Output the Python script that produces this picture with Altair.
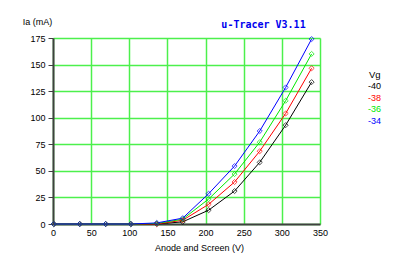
import altair as alt
import pandas as pd

anode_v = [1, 35, 69, 102, 136, 170, 204, 238, 271, 305, 339]
vg_labels = ["-40", "-38", "-36", "-34"]
ia_m40 = [0, 0, 0, 0, 0, 2, 13, 31, 58, 93, 133.5]
ia_m38 = [0, 0, 0, 0, 0, 3.5, 18.5, 39.5, 68.5, 104, 146.5]
ia_m36 = [0, 0, 0, 0, 0.5, 4.5, 23.5, 47, 77, 116, 160]
ia_m34 = [0, 0, 0, 0, 1, 5.5, 28.5, 54.5, 87.5, 128.5, 174]
series_colors = ["#000000", "#ff0000", "#00e800", "#0000ff"]

rows = []
for lab, vals in zip(vg_labels, [ia_m40, ia_m38, ia_m36, ia_m34]):
    for v, i in zip(anode_v, vals):
        rows.append({"V": v, "Ia": i, "Vg": lab})
df = pd.DataFrame(rows)

font = "Liberation Sans"

color = alt.Color(
    "Vg:N",
    scale=alt.Scale(domain=vg_labels, range=series_colors),
    legend=alt.Legend(
        title="Vg",
        orient="none",
        legendX=316,
        legendY=32,
        symbolSize=0,
        symbolStrokeWidth=0,
        symbolOpacity=0,
        labelOffset={"expr": "-10"},
        symbolType="circle",
        titleFont=font,
        titleFontSize=9.5,
        titleFontWeight="normal",
        titleColor="black",
        titlePadding=2,
        labelFont=font,
        labelFontSize=9,
        labelColor={"expr": "scale('color', datum.value)"},
        rowPadding=1.7,
    ),
)

x = alt.X(
    "V:Q",
    scale=alt.Scale(domain=[0, 350], nice=False),
    axis=alt.Axis(
        values=list(range(0, 351, 50)),
        title="Anode and Screen (V)",
        titleX=146,
        titleY=19,
        titleAlign="center",
        titleFont=font,
        titleFontSize=9,
        titleFontWeight="normal",
        titleColor="black",
        labelFont=font,
        labelFontSize=9,
        labelColor="black",
        labelPadding=4,
        ticks=False,
        grid=True,
        gridColor="#4cf04c",
        gridWidth=1.5,
        domainColor="#404040",
        domainWidth=2,
        labelFlush=False,
    ),
)
y = alt.Y(
    "Ia:Q",
    scale=alt.Scale(domain=[0, 175], nice=False),
    axis=alt.Axis(
        values=list(range(0, 176, 25)),
        title="Ia (mA)",
        titleAngle=0,
        titleX=-16,
        titleY=-12,
        titleAlign="center",
        titleFont=font,
        titleFontSize=9,
        titleFontWeight="normal",
        titleColor="black",
        labelFont=font,
        labelFontSize=9,
        labelColor="black",
        labelPadding=3,
        tickSize=5,
        tickColor="#404040",
        grid=True,
        gridColor="#4cf04c",
        gridWidth=1.5,
        domainColor="#404040",
        domainWidth=2,
    ),
)

base = alt.Chart(df)
lines = base.mark_line(interpolate="linear", strokeWidth=1).encode(x=x, y=y, color=color)
points = base.mark_point(shape="diamond", filled=False, size=26, strokeWidth=1).encode(
    x=x, y=y, color=color
)

chart = (
    alt.layer(lines, points)
    .properties(
        width=267,
        height=186,
        title=alt.TitleParams(
            "u-Tracer V3.11",
            font="DejaVu Sans Mono",
            fontSize=10,
            fontWeight="bold",
            color="#0000ee",
            anchor="middle",
            frame="group",
            dx=77,
            dy=24,
            offset=11,
        ),
        autosize=alt.AutoSizeParams(type="none"),
        padding={"left": 53, "top": 38, "right": 80, "bottom": 37},
    )
    .configure_view(stroke="#404040", strokeWidth=1.5)
    .configure(background="white")
)

chart.save("out.html", embed_options={"renderer": "svg", "actions": False})
